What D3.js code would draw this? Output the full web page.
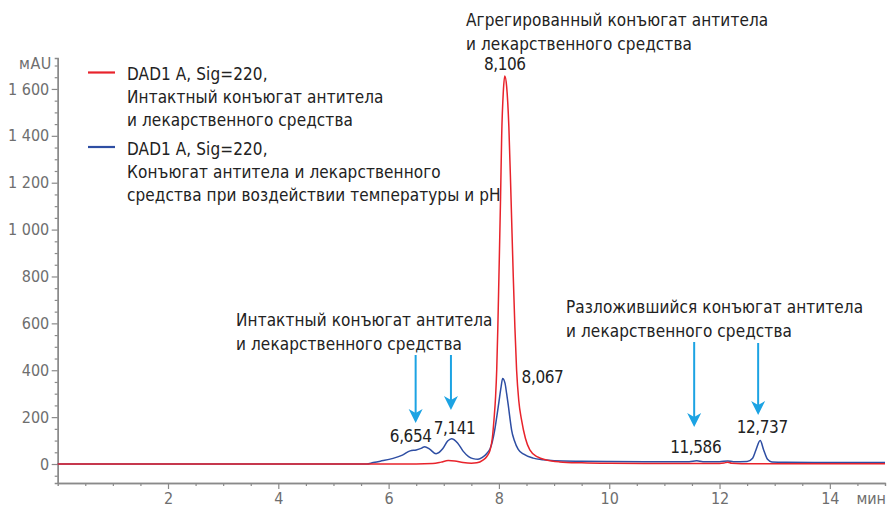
<!DOCTYPE html>
<html>
<head>
<meta charset="utf-8">
<script src="https://cdn.jsdelivr.net/npm/d3@7"></script>
<style>
  html, body { margin: 0; padding: 0; background: #fff; }
  svg text { font-family: "DejaVu Sans Condensed", "Liberation Sans Narrow", "Roboto", sans-serif; }
</style>
</head>
<body>
<svg id="chart" width="888" height="508"></svg>
<script>
// Retention time (min) / absorbance (mAU) pairs for each trace
const intactTrace = [
  [0, 0], [5.0, 0], [6.5, 0], [6.8, 2], [6.95, 8], [7.08, 15], [7.2, 13], [7.35, 6],
  [7.5, 3], [7.6, 5], [7.71, 17], [7.78, 32], [7.84, 60], [7.88, 110], [7.91, 188],
  [7.94, 290], [7.96, 402], [7.98, 580], [8.0, 800], [8.03, 1140], [8.05, 1400],
  [8.08, 1590], [8.106, 1655], [8.14, 1610], [8.18, 1440], [8.22, 1130], [8.26, 800],
  [8.29, 580], [8.32, 402], [8.36, 270], [8.41, 188], [8.48, 110], [8.56, 60],
  [8.7, 30], [8.86, 17], [9.1, 9], [9.5, 5], [10, 3], [11, 2], [12, 2], [12.08, 4],
  [12.15, 8], [12.22, 3], [12.4, 1], [13, 1], [15, 1]
];
const stressedTrace = [
  [0, 0], [5.6, 0], [5.72, 6], [5.85, 12], [6.08, 24], [6.25, 38], [6.39, 56],
  [6.5, 60], [6.6, 68], [6.654, 74], [6.75, 62], [6.86, 44], [6.98, 65], [7.07, 98],
  [7.141, 108], [7.25, 90], [7.35, 55], [7.45, 32], [7.53, 23], [7.62, 20], [7.7, 28],
  [7.78, 45], [7.84, 65], [7.88, 95], [7.92, 140], [7.96, 200], [8.0, 265], [8.04, 330],
  [8.067, 365], [8.11, 345], [8.14, 300], [8.17, 250], [8.2, 195], [8.23, 145],
  [8.28, 100], [8.35, 62], [8.45, 42], [8.62, 25], [8.8, 18], [9.0, 14], [9.5, 12],
  [10, 11], [11, 10], [11.45, 10], [11.586, 14], [11.7, 10], [12.0, 10], [12.15, 13],
  [12.25, 10], [12.5, 11], [12.6, 25], [12.66, 60], [12.737, 100], [12.8, 60],
  [12.87, 20], [12.95, 9], [13.2, 7], [14, 6], [15, 6]
];

const legendLabels = [
  ["DAD1 A, Sig=220,", "Интактный конъюгат антитела", "и лекарственного средства"],
  ["DAD1 A, Sig=220,", "Конъюгат антитела и лекарственного", "средства при воздействии температуры и pH"]
];

// Peak retention times with the trace each belongs to
const peakTimes = [8.106, 8.067, 6.654, 7.141, 11.586, 12.737];
const peakSeries = ["intact", "stressed", "stressed", "stressed", "stressed", "stressed"];

const groupNotes = [
  ["Агрегированный конъюгат антитела", "и лекарственного средства"],
  ["Интактный конъюгат антитела", "и лекарственного средства"],
  ["Разложившийся конъюгат антитела", "и лекарственного средства"]
];

const yTickValues = [0, 200, 400, 600, 800, 1000, 1200, 1400, 1600];
const xTickValues = [2, 4, 6, 8, 10, 12, 14];
const yUnit = "мAU";
const xUnit = "мин";

// ---- layout ----
const svg = d3.select("#chart");
const x = d3.scaleLinear().domain([0, 15]).range([57.7, 885]);
const y = d3.scaleLinear().domain([-81, 1732]).range([483, 58]);

const RED = "#e8232b";
const BLUE = "#2e4ea3";
const ARROW = "#1ca3e3";
const AXIS = "#8a8a8a";
const LABEL = "#6e6e6e";
const INK = "#222";
const FS = 17;
const TICK_FS = 16;
const TRACK = "0.1px";

const ru = d3.formatLocale({ decimal: ",", thousands: " ", grouping: [3], currency: ["", ""] });
const fmtTick = ru.format(",");
const fmtPeak = ru.format(",.3f");

// minor ticks
const xMinor = d3.range(0.5, 15, 0.5).filter(v => v % 2 !== 0);
const yMinor = d3.range(-50, 1701, 50).filter(v => v % 200 !== 0);

function styleAxis(g) {
  g.select(".domain").attr("stroke", AXIS).attr("stroke-width", 1.4);
  g.selectAll(".tick line").attr("stroke", AXIS).attr("stroke-width", 1.2);
  g.selectAll(".tick text").attr("fill", LABEL).attr("font-size", TICK_FS);
}

svg.append("g").attr("transform", `translate(0,${y.range()[0]})`)
  .call(d3.axisBottom(x).tickValues(xMinor).tickSize(3).tickFormat(""))
  .call(styleAxis);
svg.append("g").attr("transform", `translate(0,${y.range()[0]})`)
  .call(d3.axisBottom(x).tickValues(xTickValues).tickSize(6).tickSizeOuter(0).tickPadding(4).tickFormat(d3.format("d")))
  .call(styleAxis)
  .call(g => g.selectAll(".tick text").attr("dy", "0.71em"));

svg.append("g").attr("transform", `translate(${x.range()[0]},0)`)
  .call(d3.axisLeft(y).tickValues(yMinor).tickSize(3).tickFormat(""))
  .call(styleAxis);
svg.append("g").attr("transform", `translate(${x.range()[0]},0)`)
  .call(d3.axisLeft(y).tickValues(yTickValues).tickSize(6).tickSizeOuter(0).tickPadding(2.5).tickFormat(fmtTick))
  .call(styleAxis);

svg.append("text").attr("x", 52).attr("y", 69).attr("text-anchor", "end")
  .attr("fill", LABEL).attr("font-size", 16).style("letter-spacing", "0.6px").text(yUnit);
svg.append("text").attr("x", 886).attr("y", 504).attr("text-anchor", "end")
  .attr("fill", LABEL).attr("font-size", TICK_FS).text(xUnit);

// ---- traces ----
const line = d3.line().x(d => x(d[0])).y(d => y(d[1])).curve(d3.curveMonotoneX);
svg.append("path").datum(stressedTrace).attr("d", line)
  .attr("fill", "none").attr("stroke", BLUE).attr("stroke-width", 1.5);
svg.append("path").datum(intactTrace).attr("d", line)
  .attr("fill", "none").attr("stroke", RED).attr("stroke-width", 1.5);

// ---- legend ----
const legendColors = [RED, BLUE];
const legendTop = [72.5, 147];
legendLabels.forEach((lines, i) => {
  svg.append("line").attr("x1", 88).attr("x2", 115)
    .attr("y1", legendTop[i]).attr("y2", legendTop[i])
    .attr("stroke", legendColors[i]).attr("stroke-width", 2.2);
  const t = svg.append("text").attr("x", 127).attr("y", legendTop[i] + 7.5)
    .attr("fill", INK).attr("font-size", FS).style("letter-spacing", TRACK);
  lines.forEach((s, k) => t.append("tspan").attr("x", 127).attr("dy", k ? 23 : 0).text(s));
});

// ---- group notes ----
const notePos = [[466, 26], [236, 326], [566, 313]];
groupNotes.forEach((lines, i) => {
  const t = svg.append("text").attr("x", notePos[i][0]).attr("y", notePos[i][1])
    .attr("fill", INK).attr("font-size", FS).style("letter-spacing", TRACK);
  lines.forEach((s, k) => t.append("tspan").attr("x", notePos[i][0]).attr("dy", k ? 23.5 : 0).text(s));
});

// ---- arrows ----
const arrowTimes = [6.49, 7.13, 11.54, 12.70];
const arrowSpans = [[355, 423], [355, 410], [342, 427], [343, 415]];
arrowTimes.forEach((t, i) => {
  const ax = x(t), [top, tip] = arrowSpans[i];
  svg.append("line").attr("x1", ax).attr("x2", ax).attr("y1", top).attr("y2", tip - 8)
    .attr("stroke", ARROW).attr("stroke-width", 2);
  svg.append("path")
    .attr("d", `M${ax},${tip} L${ax - 7},${tip - 14} L${ax},${tip - 10} L${ax + 7},${tip - 14} Z`)
    .attr("fill", ARROW);
});

// ---- peak labels ----
const peakLabelShift = [[0, 70, "middle"], [19, 383, "start"], [-14, 442, "middle"],
                        [3, 434, "middle"], [-1, 453, "middle"], [2, 433, "middle"]];
peakTimes.forEach((t, i) => {
  const [dx, py, anchor] = peakLabelShift[i];
  svg.append("text").attr("x", x(t) + dx).attr("y", py).attr("text-anchor", anchor)
    .attr("fill", INK).attr("font-size", FS).style("letter-spacing", "-0.4px")
    .text(fmtPeak(t));
});
</script>
</body>
</html>
